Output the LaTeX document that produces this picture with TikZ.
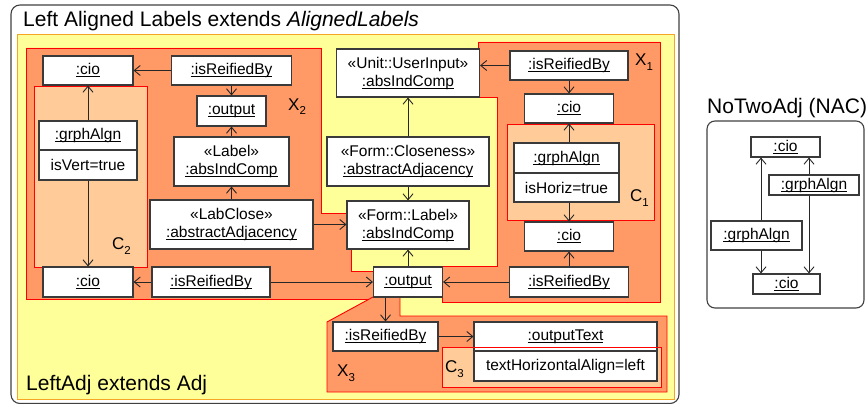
\documentclass[tikz,border=0pt]{standalone}
\usepackage{fontspec}
\setmainfont{Liberation Sans}
\usetikzlibrary{arrows.meta}
\definecolor{xfill}{HTML}{FF9966}
\definecolor{cfill}{HTML}{FFCC99}
\definecolor{yfill}{HTML}{FFFF99}
\definecolor{yborder}{HTML}{F5A623}
\definecolor{boxline}{HTML}{3A3A3A}
\newcommand\bxfont{\fontsize{15.5}{18}\selectfont}
\newcommand\ttlfont{\fontsize{21}{24}\selectfont}
\newcommand\rgfont{\fontsize{17}{20}\selectfont}
\newsavebox\ulbox
\newcommand\ulx[1]{\sbox\ulbox{#1}\rlap{\rule[-2.4pt]{\wd\ulbox}{0.85pt}}\usebox\ulbox}
\newcommand\reglbl[2]{#1\raisebox{-5pt}{\fontsize{11.5}{12}\selectfont #2}}
\tikzset{
  box/.style={draw=boxline, line width=1.1pt, fill=white, inner sep=0pt, align=center, font=\bxfont},
  arr/.style={draw=black!85, line width=0.9pt, -{Straight Barb[length=6pt,width=10pt]}},
  xreg/.style={fill=xfill, draw=red, line width=0.9pt},
  creg/.style={fill=cfill, draw=red, line width=0.9pt},
  lbl/.style={anchor=base west, inner sep=0pt, font=\rgfont},
  ttl/.style={anchor=base west, inner sep=0pt, font=\ttlfont},
}
\begin{document}
\begin{tikzpicture}[x=1pt,y=-1pt]
\useasboundingbox (0,0) rectangle (867,404);
% outer frame
\draw[draw=black!75, line width=1.1pt, rounded corners=9pt] (11,5) rectangle (679,403.5);
\node[ttl] (title) at (23,27) {Left Aligned Labels extends \textit{AlignedLabels}};
% yellow region
\draw[fill=yfill, draw=yborder, line width=1pt] (17,35) rectangle (674,399);
% X regions
\draw[xreg] (26,48) -- (321,48) -- (321,213) -- (347,213) -- (347,249) -- (351,249) -- (351,271) -- (373,271) -- (373,299) -- (26,299) -- cycle;
\draw[xreg] (478,42) -- (660,42) -- (660,302) -- (442,302) -- (442,266) -- (497,266) -- (497,97) -- (478,97) -- cycle;
\draw[xreg] (373,297) -- (327,322) -- (327,392) -- (667,392) -- (667,316) -- (400,316) -- (400,297) -- cycle;
% C regions
\draw[creg] (34,86) rectangle (147,267);
\draw[creg] (507,124) rectangle (654,220);
\draw[creg] (442,347) rectangle (661,387);
% region labels
\node[lbl] (lX2) at (288,110) {\reglbl{X}{2}};
\node[lbl] (lX1) at (635,66) {\reglbl{X}{1}};
\node[lbl] (lX3) at (337,376) {\reglbl{X}{3}};
\node[lbl] (lC2) at (112,249) {\reglbl{C}{2}};
\node[lbl] (lC1) at (630,201) {\reglbl{C}{1}};
\node[lbl] (lC3) at (445,372) {\reglbl{C}{3}};
\node[ttl] (adj) at (26,390) {LeftAdj extends Adj};
% boxes
\node[box, minimum width=90, minimum height=29] (cioTL) at (88,70.5) {\ulx{:cio}};
\node[box, minimum width=120, minimum height=29] (irX2) at (231.5,70.5) {\ulx{:isReifiedBy}};
\node[box, minimum width=69, minimum height=30] (outX2) at (231.5,111) {\ulx{:output}};
\node[box, minimum width=115, minimum height=49] (lblX2) at (231.5,161.5) {«Label»\\\ulx{:absIndComp}};
\node[box, minimum width=98, minimum height=29] (gC2h) at (88,135.5) {\ulx{:grphAlgn}};
\node[box, minimum width=98, minimum height=30] (gC2a) at (88,165) {isVert=true};
\node[box, minimum width=163, minimum height=49] (labcl) at (231.5,224.5) {«LabClose»\\\ulx{:abstractAdjacency}};
\node[box, minimum width=90, minimum height=30] (cioBL) at (88,282) {\ulx{:cio}};
\node[box, minimum width=118, minimum height=30] (irBL) at (211,282) {\ulx{:isReifiedBy}};
\node[box, minimum width=69, minimum height=30] (outC) at (408,282) {\ulx{:output}};
\node[box, minimum width=143, minimum height=48] (userin) at (408,73) {«Unit::UserInput»\\\ulx{:absIndComp}};
\node[box, minimum width=162, minimum height=49] (closeness) at (408,161.5) {«Form::Closeness»\\\ulx{:abstractAdjacency}};
\node[box, minimum width=122, minimum height=48] (formlabel) at (408,225) {«Form::Label»\\\ulx{:absIndComp}};
\node[box, minimum width=118, minimum height=29] (irX1) at (569,65.5) {\ulx{:isReifiedBy}};
\node[box, minimum width=89, minimum height=29] (cioX1T) at (569,108.5) {\ulx{:cio}};
\node[box, minimum width=105, minimum height=30] (gC1h) at (566.5,158) {\ulx{:grphAlgn}};
\node[box, minimum width=105, minimum height=29] (gC1a) at (566.5,187.5) {isHoriz=true};
\node[box, minimum width=89, minimum height=29] (cioX1B) at (569,236.5) {\ulx{:cio}};
\node[box, minimum width=119, minimum height=30] (irX1B) at (569,282) {\ulx{:isReifiedBy}};
\node[box, minimum width=105, minimum height=29] (irX3) at (385.5,336.5) {\ulx{:isReifiedBy}};
\node[box, minimum width=183, minimum height=29] (otH) at (565.5,336.5) {\ulx{:outputText}};
\node[box, minimum width=183, minimum height=30] (otA) at (565.5,366) {textHorizontalAlign=left};
\draw[draw=red, line width=0.9pt] (442,347) rectangle (661,387);
% arrows
\draw[arr] (irX2.west) -- (cioTL.east);
\draw[arr] (irX2.south) -- (outX2.north);
\draw[arr] (lblX2.north) -- (outX2.south);
\draw[arr] (labcl.north) -- (lblX2.south);
\draw[arr] (gC2h.north) -- (cioTL.south);
\draw[arr] (gC2a.south) -- (cioBL.north);
\draw[arr] (labcl.east) -- (labcl.east -| formlabel.west);
\draw[arr] (irBL.west) -- (cioBL.east);
\draw[arr] (irBL.east) -- (outC.west);
\draw[arr] (outC.north) -- (formlabel.south);
\draw[arr] (closeness.north) -- (userin.south);
\draw[arr] (closeness.south) -- (formlabel.north);
\draw[arr] (irX1.west) -- (irX1.west -| userin.east);
\draw[arr] (irX1.south) -- (cioX1T.north);
\draw[arr] (gC1h.north -| cioX1T) -- (cioX1T.south);
\draw[arr] (gC1a.south -| cioX1B) -- (cioX1B.north);
\draw[arr] (irX1B.north) -- (cioX1B.south);
\draw[arr] (irX1B.west) -- (outC.east);
\draw[arr] (outC.south -| irX3) -- (irX3.north);
\draw[arr] (irX3.east) -- (otH.west);
% NAC
\node[ttl] (nactitle) at (707,113) {NoTwoAdj (NAC)};
\draw[draw=black!75, line width=1.1pt, rounded corners=8pt] (707,121) rectangle (864,308);
\node[box, minimum width=69, minimum height=20] (nT) at (785.5,147) {\ulx{:cio}};
\node[box, minimum width=90, minimum height=20] (nR) at (814,185) {\ulx{:grphAlgn}};
\node[box, minimum width=91, minimum height=29] (nL) at (756.5,235.5) {\ulx{:grphAlgn}};
\node[box, minimum width=67, minimum height=20] (nB) at (786.5,284) {\ulx{:cio}};
\draw[arr] ([xshift=4.5pt]nL.north) -- ([xshift=4.5pt]nL.north |- nT.south);
\draw[arr] ([xshift=4.5pt]nL.south) -- ([xshift=4.5pt]nL.south |- nB.north);
\draw[arr] ([xshift=-5pt]nR.north) -- ([xshift=-5pt]nR.north |- nT.south);
\draw[arr] ([xshift=-5pt]nR.south) -- ([xshift=-5pt]nR.south |- nB.north);
\end{tikzpicture}
\end{document}
